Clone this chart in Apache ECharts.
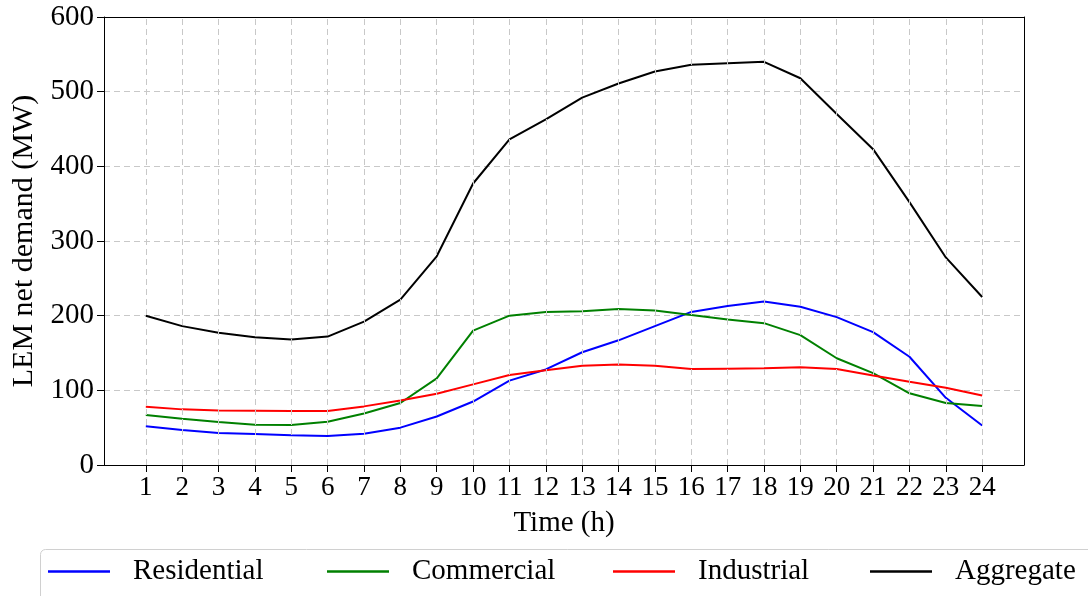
<!DOCTYPE html>
<html>
<head>
<meta charset="utf-8">
<script src="https://cdn.jsdelivr.net/npm/echarts@6/dist/echarts.min.js"></script>
<style>html,body{margin:0;padding:0;background:#fff}#c{width:1088px;height:596px}</style>
</head>
<body>
<div id="c"></div>
<script>
const hours = [1,2,3,4,5,6,7,8,9,10,11,12,13,14,15,16,17,18,19,20,21,22,23,24];
const residential = [52,47,43,41.5,40,39,42,50,65,85,113,128,151,167,186,205,213,219,212,198,178,145,90,53];
const commercial  = [67,62,57.5,54,53.5,58,69,83,116,180,200,205,206,209,207,201,195,190,174,143,123,96,83,79];
const industrial  = [78,74.5,73,72.7,72.2,72.2,78.5,86.5,95.5,108,120.5,127,133,134.5,133,128.5,129,129.5,131,128.5,120,111.5,103.5,93];
const aggregate   = [200,186,177,171,168,172,192,221.5,279.5,377,436,463,492,511,527,536,538,540,518,470,423,352,278,225];
const yTicks = [0,100,200,300,400,500,600];
const seriesNames = ['Residential','Commercial','Industrial','Aggregate'];
const seriesColors = ['#0000ff','#008000','#ff0000','#000000'];
const seriesData = [residential, commercial, industrial, aggregate];

const FONT = '"Liberation Serif","Times New Roman",serif';
const GRID_STYLE = {color:'#c8c8c8', type:[6,4], width:1};
const chart = echarts.init(document.getElementById('c'), null, {renderer:'canvas'});
const legendLefts = [43, 322, 608, 865];
const xMin = hours[0]-1.15, xMax = hours[hours.length-1]+1.15;
const option = {
  animation: false,
  backgroundColor: '#fff',
  grid: {left:104, right:64, top:17, bottom:131, show:false, containLabel:false},
  xAxis: [{
    type:'value', min: xMin, max: xMax,
    name:'Time (h)', nameLocation:'middle', nameGap:44,
    nameTextStyle:{fontFamily:FONT, fontSize:29, color:'#000'},
    axisLine:{show:true, onZero:false, lineStyle:{color:'#000', width:1}},
    axisTick:{show:true, inside:false, length:7, lineStyle:{color:'#000'}, customValues: hours},
    axisLabel:{fontFamily:FONT, fontSize:27, color:'#000', margin:9, customValues: hours},
    splitLine:{show:false}
  },{
    type:'value', min: xMin, max: xMax, position:'top',
    axisLine:{show:true, onZero:false, lineStyle:{color:'#000', width:1}},
    axisTick:{show:false}, axisLabel:{show:false}, splitLine:{show:false}
  }],
  yAxis: [{
    type:'value', min:yTicks[0], max:yTicks[yTicks.length-1], interval:100,
    name:'LEM net demand (MW)', nameLocation:'middle', nameGap:64, nameRotate:90,
    nameTextStyle:{fontFamily:FONT, fontSize:30, color:'#000'},
    axisLine:{show:true, onZero:false, lineStyle:{color:'#000', width:1}},
    axisTick:{show:true, inside:false, length:7, lineStyle:{color:'#000'}},
    axisLabel:{fontFamily:FONT, fontSize:29, color:'#000', margin:10},
    splitLine:{show:true, showMinLine:false, showMaxLine:false, lineStyle:GRID_STYLE}
  },{
    type:'value', min:yTicks[0], max:yTicks[yTicks.length-1], interval:100, position:'right',
    axisLine:{show:true, onZero:false, lineStyle:{color:'#000', width:1}},
    axisTick:{show:false}, axisLabel:{show:false}, splitLine:{show:false}
  }],
  legend: seriesNames.map((n,i)=>({
    data:[n], left: legendLefts[i], top: 552, itemWidth:62, itemHeight:2.5, icon:'rect',
    textStyle:{fontFamily:FONT, fontSize:29, color:'#000', padding:[0,0,0,18]},
    selectedMode:false
  })),
  graphic: [{type:'rect', left:38, top:547, shape:{width:1120, height:80, r:5}, style:{fill:'none', stroke:'#d0d0d0', lineWidth:1}, z:-1}],
  series: [{
    name:'_grid', type:'line', data:[], z:1, silent:true,
    markLine:{silent:true, symbol:['none','none'], label:{show:false}, lineStyle:GRID_STYLE,
      emphasis:{disabled:true}, data: hours.map(h=>({xAxis:h}))}
  }].concat(seriesNames.map((n,i)=>({
    name:n, type:'line', symbol:'none', showSymbol:false, z:3,
    data: hours.map((h,j)=>[h, seriesData[i][j]]),
    lineStyle:{color:seriesColors[i], width:2}, itemStyle:{color:seriesColors[i]}
  })))
};
chart.setOption(option);
</script>
</body>
</html>
